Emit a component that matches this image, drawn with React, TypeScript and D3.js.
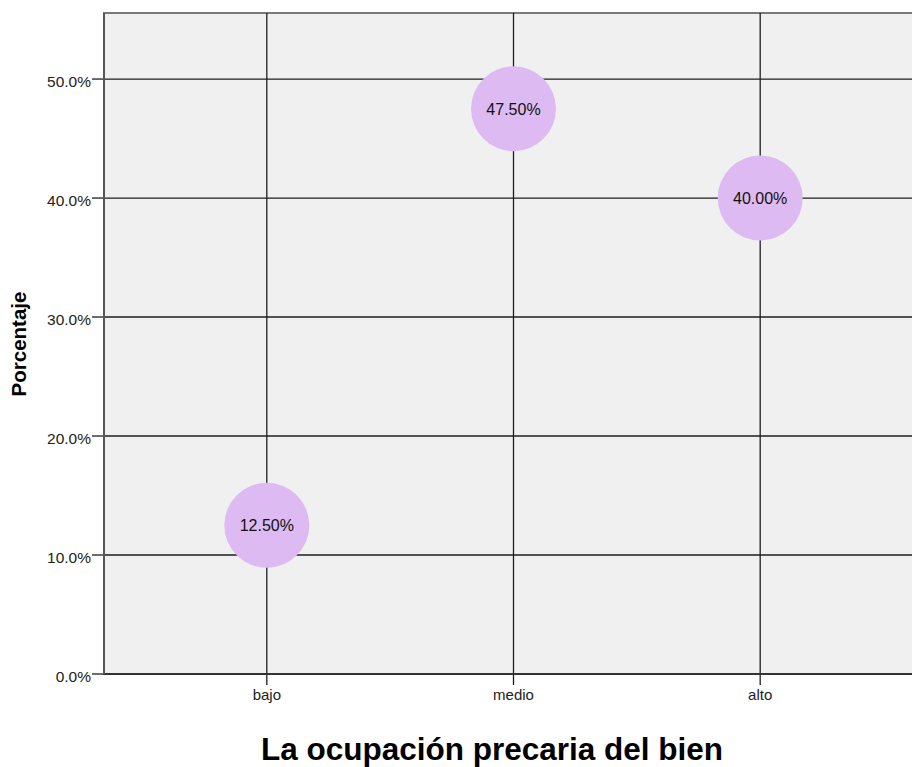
import React from "react";
import * as d3 from "d3";

const categories = ["bajo", "medio", "alto"];
const values = [12.5, 47.5, 40.0];
const yTicks = [0, 10, 20, 30, 40, 50];

export default function App() {
  const W = 912, H = 767;
  const left = 104, top = 13, bottom = 674, rightExt = 923;
  const x = d3.scalePoint<string>().domain(categories).range([left, rightExt]).padding(0.66);
  const y = d3.scaleLinear().domain([0, 55.55]).range([bottom, top]);
  const r = 42.5;
  return (
    <svg width={W} height={H} style={{ position: "absolute", left: 0, top: 0 }} fontFamily="Arial, 'Liberation Sans', sans-serif">
      <rect x={left} y={top} width={W - left + 5} height={bottom - top} fill="#f0f0f0" stroke="#7a7a7a" strokeWidth={2} />
      {yTicks.map((t) => (
        <g key={t}>
          {t > 0 && <line x1={left} x2={W} y1={y(t)} y2={y(t)} stroke="#1e1e1e" strokeWidth={1.3} />}
          <line x1={left - 12} x2={left} y1={y(t)} y2={y(t)} stroke="#1e1e1e" strokeWidth={1.3} />
          <text x={left - 13} y={y(t) + 8} textAnchor="end" fontSize={15.5} fill="#222">{t.toFixed(1) + "%"}</text>
        </g>
      ))}
      {categories.map((c) => (
        <g key={c}>
          <line x1={x(c)!} x2={x(c)!} y1={top} y2={bottom + 11} stroke="#1e1e1e" strokeWidth={1.3} />
          <text x={x(c)!} y={bottom + 26} textAnchor="middle" fontSize={15} fill="#222">{c}</text>
        </g>
      ))}
      <line x1={left} x2={W} y1={bottom} y2={bottom} stroke="#333" strokeWidth={2} />
      <line x1={left} x2={left} y1={top} y2={bottom} stroke="#555" strokeWidth={2} />
      {categories.map((c, i) => (
        <g key={"p" + c}>
          <circle cx={x(c)!} cy={y(values[i])} r={r} fill="#ddbaf2" />
          <text x={x(c)!} y={y(values[i])} dy="0.36em" textAnchor="middle" fontSize={16} fill="#111">{values[i].toFixed(2) + "%"}</text>
        </g>
      ))}
      <text transform={`translate(26,${344}) rotate(-90)`} textAnchor="middle" fontSize={20.5} fontWeight="bold" fill="#000">Porcentaje</text>
      <text x={492} y={760} textAnchor="middle" fontSize={31.5} fontWeight="bold" fill="#000">La ocupación precaria del bien</text>
    </svg>
  );
}
